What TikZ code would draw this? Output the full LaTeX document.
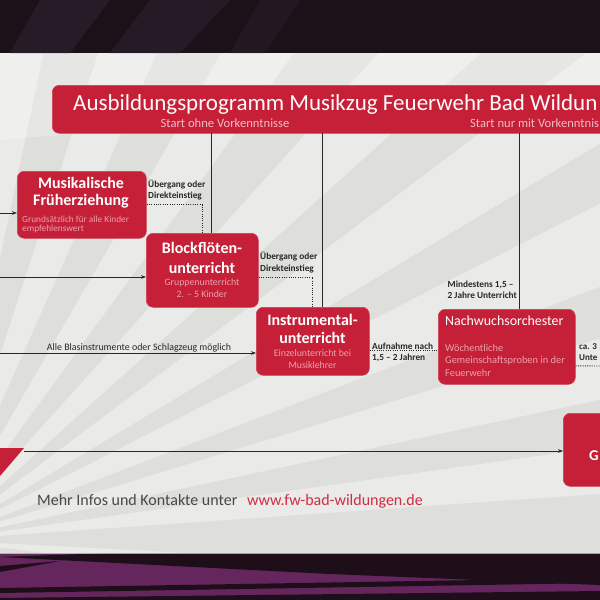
\documentclass[tikz,border=0pt]{standalone}
\usepackage{fontspec}
\setmainfont{Carlito}
\usetikzlibrary{arrows.meta,calc}
\definecolor{paper}{RGB}{222,222,219}
\definecolor{boxred}{RGB}{197,32,56}
\definecolor{subpink}{RGB}{236,160,172}
\definecolor{inkgray}{RGB}{40,40,40}
\definecolor{urlred}{RGB}{205,45,70}
\definecolor{topdark}{RGB}{26,18,24}
\definecolor{topband}{RGB}{44,30,44}
\definecolor{purp}{RGB}{100,38,92}
\definecolor{purpdark}{RGB}{30,14,26}
\tikzset{
  redbox/.style={draw=boxred!85!white, line width=0.6pt, fill=boxred, rounded corners=7pt, inner sep=0pt, anchor=north west},
  boxtitle/.style={text=white, font=\bfseries\fontsize{16}{18}\selectfont, align=center, inner sep=0pt},
  boxsub/.style={text=subpink, font=\fontsize{9.8}{12}\selectfont, inner sep=0pt},
  lbl/.style={text=inkgray, font=\bfseries\fontsize{9.3}{11}\selectfont, align=left, inner sep=0pt, anchor=base west},
  conn/.style={draw=inkgray, line width=0.7pt},
  arr/.style={conn, -{Stealth[length=5pt,width=3.6pt]}},
  dots/.style={draw=inkgray, line width=0.9pt, dash pattern=on 1pt off 1.3pt},
}
\begin{document}
\begin{tikzpicture}[x=1pt,y=-1pt]
\useasboundingbox (0,0) rectangle (600,600);
\begin{scope}
\clip (0,0) rectangle (600,600);
% paper background
\fill[paper] (0,53) rectangle (600,553);
\begin{scope}
\clip (0,53) rectangle (600,553);
\coordinate (O) at (-60,540);
\foreach \a/\b in {3/7,-4/-8,-12/-17,-21/-27,-31/-37,-42/-48,-54/-60,-66/-72,-78/-84}{
  \fill[white,opacity=0.38] (O) -- ($(O)+(\a:900)$) -- ($(O)+(\b:900)$) -- cycle;
}
\fill[white,opacity=0.25] (0,53) -- (600,53) -- (600,90) -- (0,140) -- cycle;
\end{scope}
% top band
\fill[topdark] (0,0) rectangle (600,53);
\fill[topband,opacity=0.8] (40,0) -- (110,0) -- (70,53) -- (10,53) -- cycle;
\fill[topband,opacity=0.7] (150,0) -- (230,0) -- (180,53) -- (110,53) -- cycle;
\fill[topband,opacity=0.5] (260,0) -- (300,0) -- (265,53) -- (230,53) -- cycle;
% bottom band
\fill[purp] (0,553) rectangle (600,600);
\fill[purpdark] (0,557) -- (110,553) -- (600,553) -- (600,585) -- (330,574) -- cycle;
\fill[purpdark] (0,566) -- (60,561) -- (0,572) -- cycle;
\fill[purpdark] (0,588) -- (600,578) -- (600,583) -- (0,593) -- cycle;
\fill[purpdark] (0,598) -- (600,591) -- (600,600) -- (0,600) -- cycle;
\draw[white,opacity=0.6,line width=0.6pt] (0,553) -- (600,553);

% title box
\node[redbox, minimum width=600, minimum height=48] (title) at (52,85) {};
\node[text=white!92!pink, font=\fontsize{23}{26}\selectfont, anchor=base west, inner sep=0pt] (ttxt) at (73,110) {Ausbildungsprogramm Musikzug Feuerwehr Bad Wildun};
\node[text=subpink!70!white, font=\fontsize{12.6}{14}\selectfont, anchor=base, inner sep=0pt] (st1) at (225,127) {Start ohne Vorkenntnisse};
\node[text=subpink!70!white, font=\fontsize{12.6}{14}\selectfont, anchor=base west, inner sep=0pt] (st2) at (470,127) {Start nur mit Vorkenntnis};

% boxes
\node[redbox, minimum width=129, minimum height=67] (fru) at (17,171) {};
\node[boxtitle, anchor=base, font=\bfseries\fontsize{16}{17}\selectfont] (frut) at (81,205) {Musikalische\\Früherziehung};
\node[boxsub, anchor=base west, align=left, font=\fontsize{9.3}{9}\selectfont] (frus) at (22,231) {Grundsätzlich für alle Kinder\\empfehlenswert};

\node[redbox, minimum width=112, minimum height=74] (blf) at (146,233) {};
\node[boxtitle, anchor=base, font=\bfseries\fontsize{16}{20}\selectfont] (blft) at (202,273) {Blockflöten-\\unterricht};
\node[boxsub, anchor=base, align=center] (blfs) at (202,297) {Gruppenunterricht\\2. – 5 Kinder};

\node[redbox, minimum width=113, minimum height=68] (ins) at (256,307) {};
\node[boxtitle, anchor=base] (inst) at (312.5,343) {Instrumental-\\unterricht};
\node[boxsub, anchor=base, align=center] (inss) at (312.5,368) {Einzelunterricht bei\\Musiklehrer};

\node[redbox, minimum width=137, minimum height=75] (nwo) at (438,309) {};
\node[text=white, font=\fontsize{13.9}{15}\selectfont, anchor=base west, inner sep=0pt] (nwot) at (445,325) {Nachwuchsorchester};
\node[boxsub, anchor=base west, align=left, font=\fontsize{10.4}{12.5}\selectfont] (nwos) at (445,376) {Wöchentliche\\Gemeinschaftsproben in der\\Feuerwehr};

\node[redbox, minimum width=60, minimum height=73] (orc) at (563,413) {};
\node[text=white, font=\bfseries\fontsize{15}{17}\selectfont, anchor=base west, inner sep=0pt] (orct) at (589,460) {G};

% vertical lines from title
\coordinate (v1) at (211,133);
\coordinate (v2) at (322.5,133);
\coordinate (v3) at (519.5,133);
\draw[conn] (v1) -- (v1 |- blf.north);
\draw[conn] (v2) -- (v2 |- ins.north);
\draw[conn] (v3) -- (v3 |- nwo.north);

% arrows from the left
\coordinate (l1) at (0,213);
\coordinate (l2) at (0,277);
\coordinate (l3) at (0,353);
\draw[arr] (l1) -- (l1 -| fru.west);
\draw[arr] (l2) -- (l2 -| blf.west);
\draw[arr] (l3) -- (l3 -| ins.west);
\node[text=inkgray, font=\fontsize{9.9}{11}\selectfont, anchor=base, inner sep=0pt] (alle) at (139,350) {Alle Blasinstrumente oder Schlagzeug möglich};

% dotted transitions
\draw[dots] (fru.east) -| (blf.north);
\node[lbl] (ue1) at (148,198) {Übergang oder\\Direkteinstieg};
\coordinate (b2) at ([yshift=-7pt]blf.east);
\draw[dots] (b2) -| (ins.north);
\node[lbl, font=\bfseries\fontsize{9.3}{12}\selectfont] (ue2) at (260,271) {Übergang oder\\Direkteinstieg};
\coordinate (i2) at ([yshift=-9pt]ins.east);
\draw[dots] (i2) -- (i2 -| nwo.west);
\node[lbl] (auf) at (372,360) {Aufnahme nach\\1,5 – 2 Jahren};
\node[lbl, anchor=base east] (mind) at (517,298) {Mindestens 1,5 –\\2 Jahre Unterricht};
\coordinate (n2) at ([yshift=-19pt]nwo.east);
\coordinate (n3) at (600,366);
\draw[dots] (n2) -- (n3);
\node[lbl, font=\bfseries\fontsize{9}{11}\selectfont] (ca) at (579,360) {ca. 3\\Unte};

% bottom long arrow
\fill[boxred] (0,448) -- (24,448) -- (0,476) -- cycle;
\coordinate (l4) at (24,451);
\draw[arr] (l4) -- (l4 -| orc.west);

% footer
\node[text=inkgray!85!white, font=\fontsize{16}{18}\selectfont, anchor=base west, inner sep=0pt] (mehr) at (37,505) {Mehr Infos und Kontakte unter};
\node[text=urlred, font=\fontsize{16}{18}\selectfont, anchor=base west, inner sep=0pt] (url) at (247,505) {www.fw-bad-wildungen.de};
\end{scope}
\end{tikzpicture}
\end{document}
